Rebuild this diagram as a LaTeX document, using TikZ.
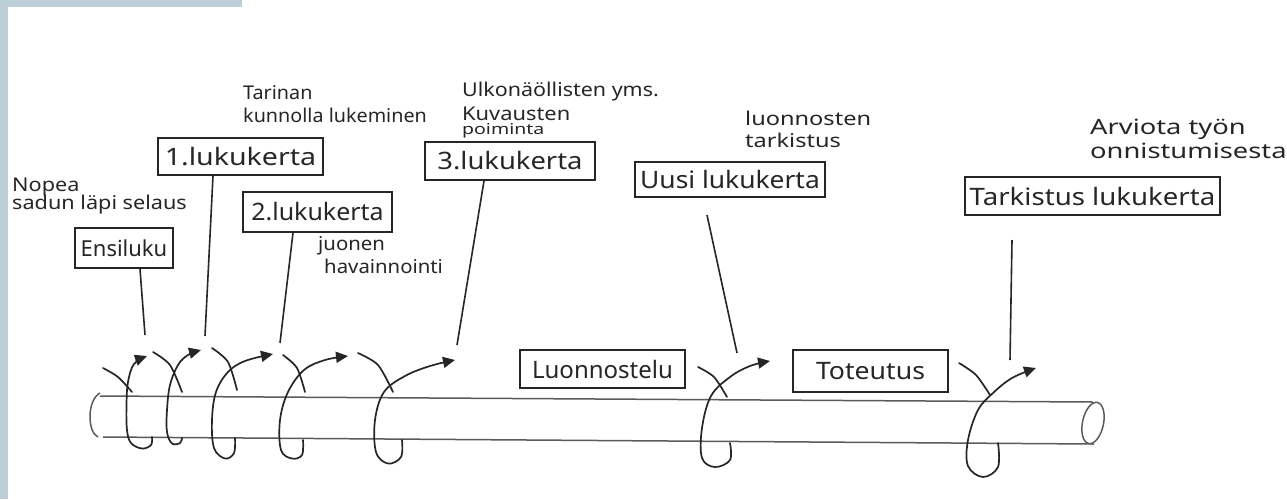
\documentclass[tikz,border=0pt]{standalone}
\usepackage{fontspec}
\setmainfont{Noto Sans}
\usetikzlibrary{arrows.meta}
\definecolor{ink}{HTML}{262626}
\definecolor{tubec}{HTML}{5A5A5A}
\definecolor{bluebar}{HTML}{BCCED6}
\begin{document}
\begin{tikzpicture}[x=1pt,y=-1pt,
  box/.style={draw=ink, line width=1.8pt, inner sep=0pt, text=ink},
  bt/.style 2 args={font=\fontsize{#1}{#1}\selectfont\addfontfeature{FakeStretch=#2}},
  note/.style={anchor=west, inner sep=0pt, text=ink},
  conn/.style={draw=ink, line width=1.6pt},
  tube/.style={draw=tubec, line width=1.5pt},
  stroke/.style={draw=ink, line width=1.7pt, line cap=round},
  arr/.style={stroke, -{Triangle[length=12pt,width=11pt]}}
]
\useasboundingbox (0,0) rectangle (1287,499);
\fill[white] (0,0) rectangle (1287,499);
\fill[bluebar] (0,0) rectangle (8,499);
\fill[bluebar] (0,0) rectangle (242,7);

% boxes
\node[box, bt={22}{1.0}, minimum width=98pt, minimum height=40pt] (ensi) at (124,248) {Ensiluku};
\node[box, bt={24}{1.19}, minimum width=165pt, minimum height=37pt] (k1) at (240.5,156.5) {1.lukukerta};
\node[box, bt={24}{1.04}, minimum width=149pt, minimum height=40pt] (k2) at (317.5,212) {2.lukukerta};
\node[box, bt={24}{1.14}, minimum width=170pt, minimum height=38pt] (k3) at (510,161) {3.lukukerta};
\node[box, bt={24}{1.1}, minimum width=190pt, minimum height=35pt] (uusi) at (730,179.5) {Uusi lukukerta};
\node[box, bt={24}{1.15}, minimum width=255pt, minimum height=38pt] (tark) at (1092.5,196) {Tarkistus lukukerta};
\node[box, bt={24}{1.0}, minimum width=165pt, minimum height=38pt] (luon) at (602.5,369) {Luonnostelu};
\node[box, bt={24}{1.11}, minimum width=155pt, minimum height=42pt] (tote) at (870.5,371) {Toteutus};

% notes
\node[note, bt={19}{1.14}] (n1a) at (12,187) {Nopea};
\node[note, bt={19}{1.14}] (n1b) at (12,205) {sadun läpi selaus};
\node[note, bt={19}{1.04}] (n2a) at (243,93) {Tarinan};
\node[note, bt={19}{1.04}] (n2b) at (243,115) {kunnolla lukeminen};
\node[note, bt={19}{1.07}] (n3a) at (318,246) {juonen};
\node[note, bt={19}{1.07}] (n3b) at (324,266) {havainnointi};
\node[note, bt={19}{1.13}] (n4a) at (462,92) {Ulkonäöllisten yms.};
\node[note, bt={19}{1.15}] (n4b) at (462,114) {Kuvausten};
\node[note, bt={15}{1.3}] (n4c) at (462,131) {poiminta};
\node[note, bt={19}{1.24}] (n5a) at (745,118) {luonnosten};
\node[note, bt={19}{1.24}] (n5b) at (745,140) {tarkistus};
\node[note, bt={21}{1.3}] (n6a) at (1090,129) {Arviota työn};
\node[note, bt={21}{1.3}] (n6b) at (1090,151) {onnistumisesta};

% connector ends
\coordinate (a1) at (ensi.south -| 140,0);
\coordinate (b1) at (145,335);
\coordinate (a2) at (k1.south -| 213,0);
\coordinate (b2) at (205,336);
\coordinate (a3) at (k2.south -| 293,0);
\coordinate (b3) at (280,343);
\coordinate (a4) at (k3.south -| 484,0);
\coordinate (b4) at (457,345);
\coordinate (a5) at (707,215);
\coordinate (b5) at (737,353);
\coordinate (a6) at (1012,240);
\coordinate (b6) at (1010,360);
\foreach \i in {1,...,6} {\draw[conn] (a\i) -- (b\i);}

% tube
\draw[tube] (100,396) -- (1093,402);
\draw[tube] (103,437) -- (1094,444);
\draw[tube] (100,393) .. controls (87,400) and (87,432) .. (98,437);
\draw[tube, rotate around={-12:(1093,423)}] (1093,423) ellipse [x radius=10.5, y radius=21];

% spirals
\draw[stroke] plot[smooth] coordinates {(103,368) (118,377) (132,392)};
\draw[arr] plot[smooth, tension=0.6] coordinates {(152,437) (151,445) (142,448.5) (131,443) (127,430) (126.5,405) (128,382) (134,364) (147,356)};

\draw[stroke] plot[smooth] coordinates {(153,352) (170,365) (182,392)};
\draw[arr] plot[smooth, tension=0.6] coordinates {(182,438) (180,443) (172,443.5) (167,432) (167,410) (170,385) (178,365) (188,355) (201,350)};

\draw[stroke] plot[smooth] coordinates {(212,348) (228,362) (237,390)};
\draw[arr] plot[smooth, tension=0.6] coordinates {(235,438) (234,453) (225,458.5) (214,448) (212,420) (216,392) (228,372) (245,361) (273,354)};

\draw[stroke] plot[smooth] coordinates {(283,355) (297,368) (305,392)};
\draw[arr] plot[smooth, tension=0.6] coordinates {(303,440) (302,455) (292,458.5) (281,450) (280,420) (288,392) (304,370) (325,360) (348,356)};

\draw[stroke] plot[smooth] coordinates {(358,353) (378,365) (393,392)};
\draw[arr] plot[smooth, tension=0.6] coordinates {(402,440) (401,457) (388,463.5) (376,452) (375,420) (384,392) (405,376) (430,366) (455,360)};

\draw[stroke] plot[smooth] coordinates {(698,367) (714,377) (727,397)};
\draw[arr] plot[smooth, tension=0.6] coordinates {(730,443) (730,460) (715,467) (702,458) (702,428) (711,396) (730,377) (750,366) (770,361)};

\draw[stroke] plot[smooth] coordinates {(959,363) (976,375) (990,395)};
\draw[arr] plot[smooth, tension=0.6] coordinates {(998,443) (998,467) (983,477) (968,466) (968,440) (978,410) (993,393) (1012,378) (1036,368)};
\end{tikzpicture}
\end{document}
